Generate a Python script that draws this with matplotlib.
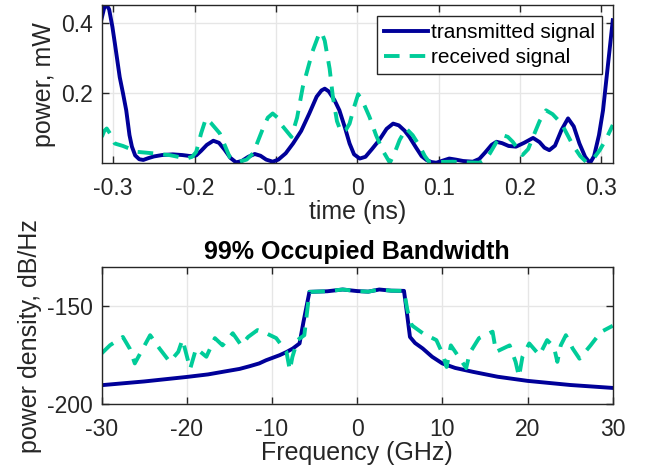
import matplotlib
matplotlib.use("Agg")
import matplotlib.pyplot as plt

plt.rcParams['font.family'] = ['Liberation Sans', 'DejaVu Sans']
plt.rcParams['axes.unicode_minus'] = False

NAVY = '#000099'
TEAL = '#00CC99'
AXC = '#262626'

# time domain (ns, mW)
t_tx = [-0.3143, -0.311, -0.308, -0.305, -0.301, -0.298, -0.292, -0.288, -0.284, -0.280,
        -0.277, -0.273, -0.268, -0.263, -0.257, -0.250, -0.240, -0.227, -0.215, -0.205,
        -0.198, -0.192, -0.185, -0.177, -0.170, -0.163, -0.156, -0.149, -0.142, -0.134,
        -0.126, -0.119, -0.112, -0.104, -0.097, -0.088, -0.079, -0.069, -0.059, -0.050,
        -0.044, -0.040, -0.035, -0.028, -0.022, -0.015, -0.0095, -0.004, 0.003, 0.010,
        0.018, 0.027, 0.036, 0.044, 0.051, 0.058, 0.064, 0.072, 0.079, 0.085,
        0.091, 0.097, 0.105, 0.113, 0.121, 0.130, 0.142, 0.150, 0.157, 0.165,
        0.171, 0.178, 0.186, 0.195, 0.205, 0.216, 0.224, 0.230, 0.236, 0.243,
        0.251, 0.259, 0.266, 0.273, 0.280, 0.286, 0.291, 0.297, 0.302, 0.308,
        0.314]
p_tx = [0.413, 0.445, 0.452, 0.440, 0.390, 0.343, 0.246, 0.200, 0.151, 0.080,
        0.047, 0.022, 0.011, 0.009, 0.014, 0.019, 0.023, 0.025, 0.023, 0.020,
        0.022, 0.035, 0.052, 0.064, 0.058, 0.038, 0.015, 0.002, 0.006, 0.018,
        0.026, 0.021, 0.010, 0.004, 0.010, 0.028, 0.056, 0.092, 0.142, 0.190,
        0.208, 0.213, 0.205, 0.180, 0.151, 0.100, 0.056, 0.025, 0.013, 0.018,
        0.040, 0.066, 0.098, 0.113, 0.108, 0.093, 0.075, 0.045, 0.020, 0.009,
        0.003, 0.001, 0.007, 0.013, 0.010, 0.006, 0.004, 0.012, 0.030, 0.052,
        0.061, 0.057, 0.049, 0.047, 0.058, 0.072, 0.060, 0.044, 0.037, 0.050,
        0.095, 0.128, 0.105, 0.056, 0.018, 0.000, 0.020, 0.080, 0.151, 0.280,
        0.409]

t_rx = [-0.314, -0.311, -0.308, -0.304, -0.298, -0.288, -0.270, -0.251, -0.231, -0.210,
        -0.203, -0.198, -0.192, -0.186, -0.180, -0.169, -0.157, -0.145, -0.136, -0.128,
        -0.116, -0.110, -0.104, -0.098, -0.093, -0.081, -0.074, -0.067, -0.055, -0.047,
        -0.044, -0.040, -0.034, -0.030, -0.025, -0.020, -0.014, -0.0095, -0.004, 0.001,
        0.006, 0.015, 0.023, 0.031, 0.040, 0.046, 0.052, 0.060, 0.068, 0.077,
        0.083, 0.089, 0.100, 0.117, 0.135, 0.150, 0.157, 0.163, 0.171, 0.179,
        0.185, 0.191, 0.203, 0.210, 0.216, 0.224, 0.232, 0.240, 0.251, 0.265,
        0.274, 0.281, 0.290, 0.298, 0.306, 0.314]
p_rx = [0.075, 0.092, 0.099, 0.085, 0.056, 0.049, 0.032, 0.028, 0.023, 0.013,
        0.018, 0.032, 0.085, 0.128, 0.115, 0.085, 0.018, 0.004, 0.010, 0.028,
        0.099, 0.130, 0.142, 0.130, 0.109, 0.075, 0.130, 0.218, 0.320, 0.370,
        0.375, 0.350, 0.270, 0.189, 0.120, 0.089, 0.095, 0.113, 0.160, 0.197,
        0.180, 0.132, 0.080, 0.037, 0.001, 0.030, 0.066, 0.099, 0.080, 0.047,
        0.020, 0.001, 0.003, 0.004, 0.002, 0.001, 0.010, 0.028, 0.060, 0.080,
        0.075, 0.061, 0.023, 0.040, 0.075, 0.120, 0.151, 0.140, 0.113, 0.051,
        0.020, 0.004, 0.012, 0.037, 0.070, 0.109]

# spectrum (GHz, dB/Hz)
f_tx = [-30, -25, -20, -17.5, -15.4, -13.8, -12.6, -11.5, -10.7, -9.9,
        -9.1, -8.3, -7.55, -6.76, -6.3, -5.6, -3.5, -1.7, 0, 1.3,
        2.6, 4.0, 5.5, 5.8, 6.2, 6.8, 7.7, 8.8, 10, 11.5,
        13.6, 16.5, 20, 25, 30]
d_tx = [-190.3, -188.4, -186.1, -184.8, -183.2, -182.0, -180.6, -179.2, -177.6, -176.3,
        -175.0, -173.4, -171.6, -169.0, -158.0, -142.7, -142.4, -141.5, -142.3, -142.6,
        -141.5, -142.1, -142.2, -152.0, -165.7, -168.8, -171.6, -175.8, -179.2, -181.5,
        -183.5, -186.0, -188.1, -190.2, -191.7]

f_rx = [-30, -29.0, -27.5, -26.7, -26.1, -24.3, -23.2, -22.0, -21.0, -20.5,
        -19.6, -18.9, -17.7, -16.7, -15.8, -14.6, -13.6, -12.8, -11.7, -10.6,
        -9.5, -8.3, -7.9, -7.6, -7.0, -6.2, -5.6, -3.5, -1.7, 0,
        1.3, 2.6, 4.0, 5.5, 5.9, 6.4, 7.7, 9.3, 10.0, 10.5,
        11.0, 12.2, 12.8, 13.2, 14.3, 15.9, 16.3, 17.9, 18.6, 19.0,
        19.4, 20.2, 21.4, 22.3, 23.1, 23.5, 23.9, 24.5, 25.3, 26.1,
        27.4, 28.6, 30]
d_rx = [-174.1, -169.9, -165.7, -171.6, -179.2, -164.8, -171.6, -178.4, -173.3, -167.0,
        -182.0, -171.5, -175.8, -166.3, -170.0, -163.8, -170.0, -165.7, -162.2, -164.0,
        -166.3, -173.3, -182.7, -175.9, -167.3, -164.8, -142.7, -142.4, -141.5, -142.3,
        -142.6, -141.5, -142.1, -142.2, -152.0, -159.7, -163.8, -167.3, -174.0, -181.0,
        -170.0, -177.6, -181.6, -174.0, -166.3, -163.0, -173.3, -170.0, -178.4, -186.0,
        -175.9, -169.0, -175.0, -167.3, -170.8, -178.4, -170.0, -164.8, -171.6, -176.8,
        -170.0, -163.2, -160.0]

fig = plt.figure(figsize=(6.47, 4.70), dpi=100)
ax1 = fig.add_axes([0.157, 0.653, 0.790, 0.336])
ax2 = fig.add_axes([0.157, 0.140, 0.790, 0.292])


def style(ax):
    ax.grid(True, color='#e6e6e6', linewidth=1.0)
    ax.set_axisbelow(True)
    ax.tick_params(direction='in', top=True, right=True, labelsize=16.5,
                   colors=AXC, length=5, width=1)
    ax.tick_params(axis='x', pad=10)
    ax.tick_params(axis='y', pad=6)
    for s in ax.spines.values():
        s.set_color(AXC)
        s.set_linewidth(1.0)


ax1.plot(t_tx, p_tx, color=NAVY, lw=2.8, label='transmitted signal')
ax1.plot(t_rx, p_rx, color=TEAL, lw=2.8, dashes=(4, 2.6), label='received signal')
ax1.set_xlim(-0.3143, 0.3139)
ax1.set_ylim(0, 0.452)
ax1.set_xticks([-0.3, -0.2, -0.1, 0, 0.1, 0.2, 0.3])
ax1.set_xticklabels(['-0.3', '-0.2', '-0.1', '0', '0.1', '0.2', '0.3'])
ax1.set_yticks([0.2, 0.4])
ax1.set_xlabel('time (ns)', fontsize=18, color=AXC, labelpad=0)
ax1.set_ylabel('power, mW', fontsize=18, color=AXC, labelpad=4)
style(ax1)
leg = ax1.legend(loc='upper right', fontsize=15, fancybox=False, framealpha=1,
                 edgecolor=AXC, borderpad=0.35, labelspacing=0.3,
                 handlelength=2.1, handletextpad=0.15, borderaxespad=0.5)
leg.get_frame().set_linewidth(1.0)

ax2.plot(f_tx, d_tx, color=NAVY, lw=2.8)
ax2.plot(f_rx, d_rx, color=TEAL, lw=2.8, dashes=(4, 2.6))
ax2.set_xlim(-30, 30)
ax2.set_ylim(-200, -130)
ax2.set_xticks([-30, -20, -10, 0, 10, 20, 30])
ax2.set_yticks([-200, -150])
ax2.set_title('99% Occupied Bandwidth', fontsize=18, fontweight='bold', pad=6)
ax2.set_xlabel('Frequency (GHz)', fontsize=18, color=AXC, labelpad=0)
ax2.set_ylabel('power density, dB/Hz', fontsize=18, color=AXC, labelpad=4)
style(ax2)

fig.savefig('out.png', dpi=100)
